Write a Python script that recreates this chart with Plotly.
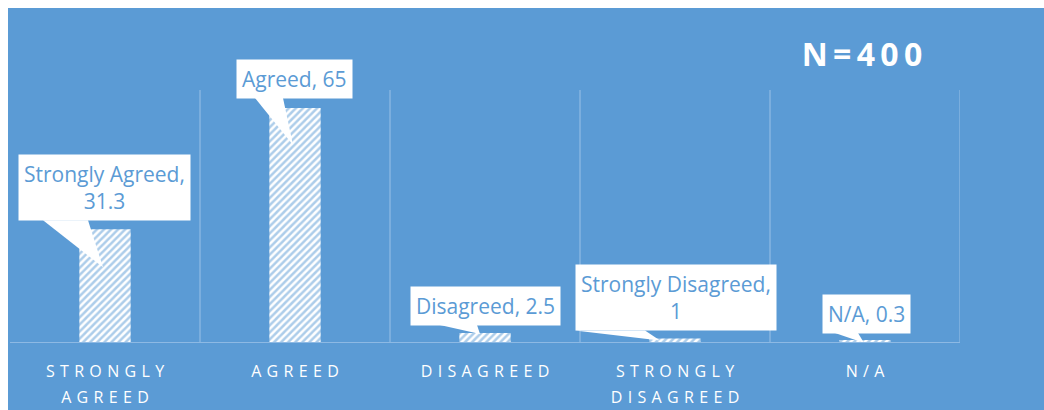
import plotly.graph_objects as go

# ---- data ----
categories = ["Strongly Agreed", "Agreed", "Disagreed", "Strongly Disagreed", "N/A"]
values = [31.3, 65, 2.5, 1, 0.3]
tick_labels = ["STRONGLY<br>AGREED", "AGREED", "DISAGREED", "STRONGLY<br>DISAGREED", "N/A"]
label_texts = ["Strongly Agreed,<br>31.3", "Agreed, 65", "Disagreed, 2.5", "Strongly Disagreed,<br>1", "N/A, 0.3"]
title_text = "N=400"

# ---- styling ----
BLUE = "#5B9BD5"
GRID = "#8DB9E4"
W, H = 1044, 410
ML, MR, MT, MB = 10, 84, 90, 68
FONT = "Open Sans"

# callout geometry in pixels relative to (bar centre, bar top)
# (box_dx, box_gap, base_x0, base_x1, tip_dx, tip_dy)
callouts = [
    (-1, 8, -62, -17, -2, -38),
    (-0.5, 9, -40, -12, -2, -37),
    (0, 7, -45, -8, -5, -1),
    (0.5, 7, -100, -30, -15, -2),
    (1, 7, -30, -7, -1, -2),
]

def spaced(s, sep="\u2004"):
    lines = [sep.join(list(part)) for part in s.split("<br>")]
    return "<br>".join('<span style="font-size:16px">' + ln + "</span>" for ln in lines)

idx = list(range(len(categories)))

fig = go.Figure()
fig.add_trace(go.Bar(
    x=idx, y=values,
    marker=dict(color="white", line=dict(width=0),
                pattern=dict(shape="/", fgcolor=BLUE, bgcolor="white", size=5, solidity=0.5)),
    width=0.27,
    hoverinfo="skip",
))

shapes = []
# background panel with thin white border at top/left
pw, ph = W - ML - MR, H - MT - MB
shapes.append(dict(type="rect", xref="paper", yref="paper",
                   x0=(8 - ML) / pw, x1=(W + 5 - ML) / pw,
                   y0=-(MB + 5) / ph, y1=(H - 8 - MB) / ph,
                   fillcolor=BLUE, line=dict(width=0), layer="below"))
# vertical gridlines at category boundaries
for i in idx:
    shapes.append(dict(type="line", xref="x", yref="y", x0=i + 0.5, x1=i + 0.5, y0=0, y1=70,
                       line=dict(color=GRID, width=1.3), layer="below"))

annotations = []
for i, (v, txt, c) in enumerate(zip(values, label_texts, callouts)):
    bdx, gap, b0, b1, tdx, tdy = c
    shapes.append(dict(type="path", xref="x", yref="y", xsizemode="pixel", ysizemode="pixel",
                       xanchor=i, yanchor=v,
                       path=f"M {b0},{gap + 1} L {b1},{gap + 1} L {tdx},{tdy} Z",
                       fillcolor="white", line=dict(width=0), layer="above"))
    annotations.append(dict(x=i, y=v, xref="x", yref="y", text=txt, showarrow=False,
                            xanchor="center", yanchor="bottom", xshift=bdx, yshift=gap,
                            bgcolor="white", borderpad=5,
                            font=dict(family=FONT, size=21, color=BLUE)))

fig.update_layout(
    width=W, height=H,
    margin=dict(l=ML, r=MR, t=MT, b=MB, pad=0, autoexpand=False),
    paper_bgcolor="white", plot_bgcolor=BLUE,
    showlegend=False,
    title=dict(text="<b>" + "\u2009".join(title_text) + "</b>", x=862 / W, y=1 - 55 / H,
               xanchor="center", yanchor="middle",
               font=dict(family=FONT, size=32, color="white")),
    xaxis=dict(range=[-0.5, 4.5], tickvals=idx, ticktext=[spaced(t) for t in tick_labels],
               automargin=False,
               showgrid=False, zeroline=False, showline=True, linecolor=GRID, linewidth=1.3,
               ticks="outside", ticklen=10, tickcolor="rgba(0,0,0,0)",
               tickfont=dict(family=FONT, size=20, color="white")),
    yaxis=dict(range=[0, 70], showgrid=False, zeroline=False, showticklabels=False, ticks="",
               automargin=False),
    shapes=shapes, annotations=annotations,
)

fig.write_html("out.html")
